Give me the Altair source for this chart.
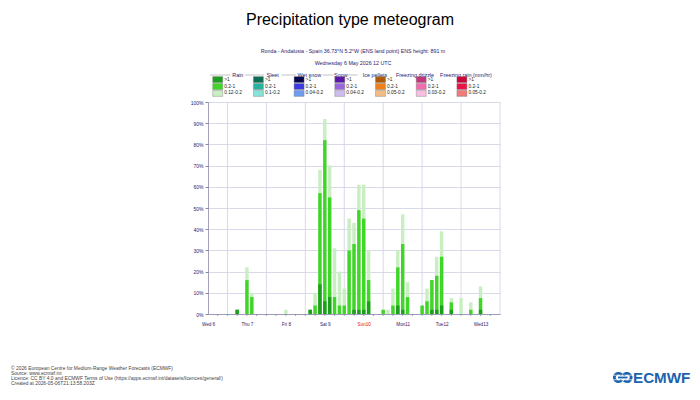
import altair as alt
import pandas as pd

FONT = "Liberation Sans"

# ---------------- data ----------------
hours = [18, 24, 27, 48, 63, 66, 69, 72, 75, 78, 81, 84, 87, 90, 93, 96, 99,
         108, 111, 114, 117, 120, 123, 132, 135, 138, 141, 144, 150, 156, 162, 168]
p_light = [2, 22, 10, 2, 2, 10, 68, 92, 70, 31, 20, 12, 45, 43, 61, 61, 30,
           2, 2, 12, 30, 47, 15, 4, 12, 16, 27, 39, 7.5, 7.5, 5.5, 13]
p_mid = [2, 16, 8, 0, 2, 4, 57, 82, 55, 8, 4, 4, 30, 33, 49, 45, 16,
         2, 0, 4, 22, 33, 8, 4, 6, 16, 18, 27, 5.5, 0, 2, 7.5]
p_dark = [2, 0, 0, 0, 2, 0, 14, 6, 8, 0, 0, 0, 0, 2, 2, 2, 6,
          0, 0, 0, 4, 2, 0, 0, 0, 2, 2, 4, 2, 0, 0, 2]

day_labels = ["Wed 6", "Thu 7", "Fri 8", "Sat 9", "Sun10", "Mon11", "Tue12", "Wed13"]
label_hours = [0, 24, 48, 72, 96, 120, 144, 168]
midnight_hours = [12, 36, 60, 84, 108, 132, 156, 180]
tick_hours = list(range(6, 180, 6))
y_ticks = [0, 10, 20, 30, 40, 50, 60, 70, 80, 90, 100]

ptypes = ["Rain", "Sleet", "Wet snow", "Snow", "Ice pellets", "Freezing drizzle",
          "Freezing rain (mm/hr)"]
ptype_colors = [
    ["#1e9e1e", "#3fd628", "#c8eec2"],
    ["#0b6e55", "#27b3a0", "#86e3da"],
    ["#05054f", "#3a3ae0", "#6f9cf0"],
    ["#5a16a8", "#9a66dc", "#cdbdee"],
    ["#b05a08", "#f08019", "#f2bc85"],
    ["#c0387a", "#f06cae", "#fbbde0"],
    ["#cc0538", "#ee1148", "#ef7a7a"],
]
ptype_ranges = [
    [">1", "0.2-1", "0.12-0.2"],
    [">1", "0.2-1", "0.1-0.2"],
    [">1", "0.2-1", "0.04-0.2"],
    [">1", "0.2-1", "0.04-0.2"],
    [">1", "0.2-1", "0.05-0.2"],
    [">1", "0.2-1", "0.03-0.2"],
    [">1", "0.2-1", "0.05-0.2"],
]

title = "Precipitation type meteogram"
subtitle1 = "Ronda - Andalusia - Spain 36.73\u00b0N 5.2\u00b0W (ENS land point) ENS height: 891 m"
subtitle2 = "Wednesday 6 May 2026 12 UTC"
footer = [
    "\u00a9 2026 European Centre for Medium-Range Weather Forecasts (ECMWF)",
    "Source: www.ecmwf.int",
    "Licence: CC BY 4.0 and ECMWF Terms of Use (https://apps.ecmwf.int/datasets/licences/general/)",
    "Created at 2026-05-06T21:13:58.203Z",
]

# ---------------- layout ----------------
OX, OY = 208, 102          # plot origin on screen
W, H = 292, 212
NAVY = "#24246e"
GRID = "#cfd0e3"
AXIS = "#8a8aa8"

bars = pd.DataFrame({"hour": hours, "light": p_light, "mid": p_mid, "dark": p_dark})
xscale = alt.Scale(domain=[0, 180], nice=False, zero=False, padding=0)
yscale = alt.Scale(domain=[0, 100], nice=False, padding=0)

label_expr = "[" + ",".join("'%s'" % s for s in day_labels) + "][round(datum.value/24)]"

x_axis = alt.Axis(
    values=label_hours, labelExpr=label_expr, title=None, grid=False, ticks=False,
    domainColor=AXIS, domainWidth=0.8, labelFontSize=4.6, labelFont=FONT,
    labelPadding=7, labelFlush=False,
    labelColor=alt.condition("datum.value == 96", alt.value("#e01010"), alt.value(NAVY)))
y_axis = alt.Axis(
    values=y_ticks, labelExpr="datum.value + '%'", title=None, grid=True,
    gridColor=GRID, gridWidth=0.8, tickSize=3, tickColor=AXIS, domainColor=AXIS,
    domainWidth=0.8, labelFontSize=5, labelFont=FONT, labelColor=NAVY, labelPadding=2,
    labelFlush=False)

grid_v = alt.Chart(pd.DataFrame({"hour": midnight_hours})).mark_rule(
    color=GRID, strokeWidth=0.8
).encode(x=alt.X("hour:Q", scale=xscale, axis=x_axis))

xticks = alt.Chart(pd.DataFrame({"hour": tick_hours})).mark_rule(
    color=AXIS, strokeWidth=0.8
).encode(x=alt.X("hour:Q", scale=xscale, axis=x_axis), y=alt.value(H), y2=alt.value(H + 2))


def bar_layer(col, color):
    return alt.Chart(bars).transform_filter(f"datum.{col} > 0").mark_bar(
        size=3.4, color=color
    ).encode(
        x=alt.X("hour:Q", scale=xscale, axis=x_axis),
        y=alt.Y(f"{col}:Q", scale=yscale, axis=y_axis),
        y2=alt.datum(0),
    )


one = pd.DataFrame({"a": [0]})


def txt(s, x, y, size=5, color="#000000", align="left", baseline="middle", weight="normal"):
    return alt.Chart(one).mark_text(
        text=s, fontSize=size, color=color, align=align, baseline=baseline,
        fontWeight=weight, font=FONT
    ).encode(x=alt.value(x - OX), y=alt.value(y - OY))


def rect(x0, y0, x1, y1, fill, stroke=None):
    kw = dict(color=fill)
    if stroke:
        kw.update(stroke=stroke, strokeWidth=0.4)
    return alt.Chart(one).mark_rect(**kw).encode(
        x=alt.value(x0 - OX), x2=alt.value(x1 - OX), y=alt.value(y0 - OY), y2=alt.value(y1 - OY))


layers = [grid_v, xticks,
          bar_layer("light", ptype_colors[0][2]),
          bar_layer("mid", ptype_colors[0][1]),
          bar_layer("dark", ptype_colors[0][0])]

# titles
layers.append(txt(title, 350, 24.5, size=16, color="#000000", align="center", baseline="alphabetic"))
layers.append(txt(subtitle1, 353, 50.5, size=5.3, color=NAVY, align="center"))
layers.append(txt(subtitle2, 353, 62.5, size=5.3, color=NAVY, align="center"))

# legend
header_centers = [237.8, 272.7, 309.3, 340.8, 375, 415, 466]
layers.append(alt.Chart(one).mark_rule(color="#9a9a9a", strokeWidth=0.6).encode(
    x=alt.value(210 - OX), x2=alt.value(497 - OX), y=alt.value(75 - OY)))
for name, cx in zip(ptypes, header_centers):
    half = len(name) * 1.45 + 1.5
    layers.append(rect(cx - half, 72, cx + half, 78, "#ffffff"))
    layers.append(txt(name, cx, 75, size=5.4, color=NAVY, align="center"))
row_tops = [76.6, 83.5, 90.4]
for i in range(7):
    x0 = 212.7 + 40.7 * i
    for r in range(3):
        layers.append(rect(x0, row_tops[r], x0 + 10, row_tops[r] + 6,
                           ptype_colors[i][r], stroke="#7a7a7a"))
        layers.append(txt(ptype_ranges[i][r], x0 + 11.5, row_tops[r] + 3, size=4.8, color="#222222"))

# footer
for k, line in enumerate(footer):
    layers.append(txt(line, 11, 369.3 + 5 * k, size=4.9, color="#444444"))

# logo
BLUE = "#1b63ad"
layers.append(txt("ECMWF", 633, 383.3, size=15.2, color=BLUE, baseline="alphabetic", weight="bold"))
layers.append(alt.Chart(one).mark_arc(theta=2.2, theta2=7.25, outerRadius=5.6, innerRadius=2.6,
                                      color=BLUE).encode(x=alt.value(618.5 - OX), y=alt.value(377.5 - OY)))
layers.append(alt.Chart(one).mark_arc(theta=5.2, theta2=10.25, outerRadius=5.6, innerRadius=2.6,
                                      color=BLUE).encode(x=alt.value(627 - OX), y=alt.value(377.5 - OY)))
layers.append(rect(618, 376.6, 627.5, 378.4, BLUE))
for yy in [375.2, 379.8]:
    layers.append(alt.Chart(one).mark_rule(color="#ffffff", strokeWidth=0.7).encode(
        x=alt.value(612 - OX), x2=alt.value(633 - OX), y=alt.value(yy - OY)))

chart = alt.layer(*layers).properties(
    width=W, height=H,
    autosize=alt.AutoSizeParams(type="none"),
    padding={"left": 200, "top": 94, "right": 192, "bottom": 72},
    background="#ffffff",
).configure_view(stroke=None)

chart.save("out.html", embed_options={"renderer": "svg", "actions": False})
